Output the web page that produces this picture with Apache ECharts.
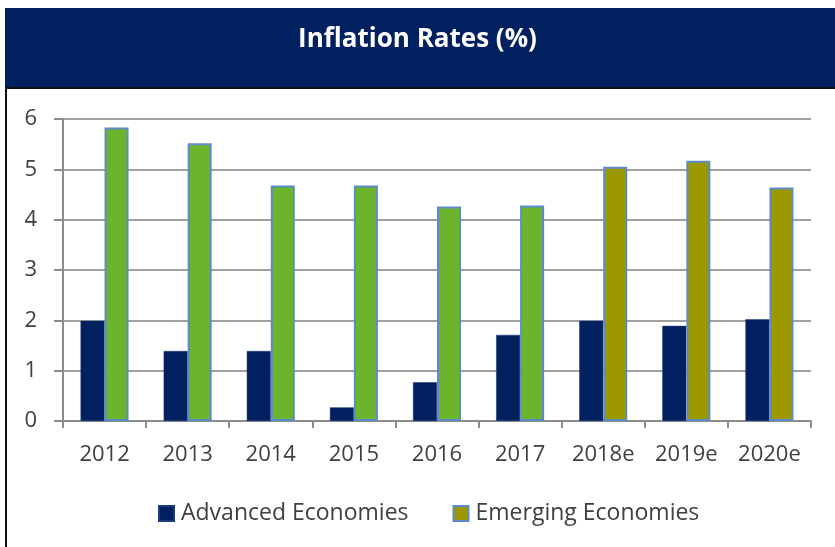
<!DOCTYPE html>
<html>
<head>
<meta charset="utf-8">
<script src="https://cdn.jsdelivr.net/npm/echarts@6/dist/echarts.min.js"></script>
<style>
  html, body { margin: 0; padding: 0; background: #ffffff; }
  #chart { width: 835px; height: 547px; }
</style>
</head>
<body>
<div id="chart"></div>
<script>
// Inflation rates, advanced vs emerging economies (e = estimate)
const years = ['2012', '2013', '2014', '2015', '2016', '2017', '2018e', '2019e', '2020e'];
const advanced = [1.99, 1.39, 1.39, 0.27, 0.77, 1.71, 1.99, 1.89, 2.02];
const emerging = [5.83, 5.52, 4.68, 4.68, 4.26, 4.28, 5.05, 5.17, 4.64];
const estimateFrom = 6; // index of the first projected year
const yTicks = [0, 1, 2, 3, 4, 5, 6];

const NAVY = '#002060';
const GREEN = '#6cb42c';
const OLIVE = '#9c9800';
const EDGE = '#5b8bc9';
const FONT = '"Open Sans", "DejaVu Sans", sans-serif';
const TEXT = '#404040';

const chart = echarts.init(document.getElementById('chart'), null, { renderer: 'canvas' });

chart.setOption({
  animation: false,
  backgroundColor: '#ffffff',
  graphic: [
    { type: 'rect', shape: { x: 5, y: 8, width: 830, height: 80 }, style: { fill: NAVY }, z: 0 },
    { type: 'line', shape: { x1: 5, y1: 88, x2: 835, y2: 88 }, style: { stroke: '#101010', lineWidth: 2 }, z: 1 },
    { type: 'line', shape: { x1: 6, y1: 88, x2: 6, y2: 547 }, style: { stroke: '#101010', lineWidth: 2 }, z: 1 },
    {
      type: 'text', left: 'center', top: 27, z: 2,
      style: {
        text: 'Inflation Rates (%)', fill: '#ffffff',
        font: 'bold 26px ' + FONT
      }
    }
  ],
  legend: {
    left: 158, top: 502, padding: 0,
    itemWidth: 15, itemHeight: 15, itemGap: 44,
    icon: 'rect',
    textStyle: { fontFamily: FONT, fontSize: 23, color: TEXT, padding: [0, 0, 0, 2] },
    data: ['Advanced Economies', 'Emerging Economies']
  },
  grid: { left: 63, right: 24, top: 119, bottom: 126, containLabel: false },
  xAxis: {
    type: 'category',
    data: years,
    axisLine: { lineStyle: { color: '#8c8c8c', width: 2 } },
    axisTick: { show: true, length: 7, lineStyle: { color: '#8c8c8c', width: 2 } },
    axisLabel: { interval: 0, margin: 23, fontFamily: FONT, fontSize: 22, color: TEXT },
    splitLine: { show: false }
  },
  yAxis: {
    type: 'value',
    min: yTicks[0], max: yTicks[yTicks.length - 1], interval: 1,
    axisLine: { show: true, lineStyle: { color: '#8c8c8c', width: 2 } },
    axisTick: { show: true, length: 9, lineStyle: { color: '#8c8c8c', width: 2 } },
    axisLabel: { margin: 26, fontFamily: FONT, fontSize: 22, color: TEXT },
    splitLine: { show: true, lineStyle: { color: '#a0a0a0', width: 2 } }
  },
  series: [
    {
      name: 'Advanced Economies',
      type: 'bar',
      data: advanced,
      barWidth: 24,
      barGap: '0%',
      itemStyle: { color: NAVY, borderColor: '#1a3a78', borderWidth: 0.5 }
    },
    {
      name: 'Emerging Economies',
      type: 'bar',
      barWidth: 24,
      data: emerging.map((v, i) => ({
        value: v,
        itemStyle: { color: i >= estimateFrom ? OLIVE : GREEN }
      })),
      itemStyle: { color: OLIVE, borderColor: EDGE, borderWidth: 2 }
    }
  ]
});
</script>
</body>
</html>
